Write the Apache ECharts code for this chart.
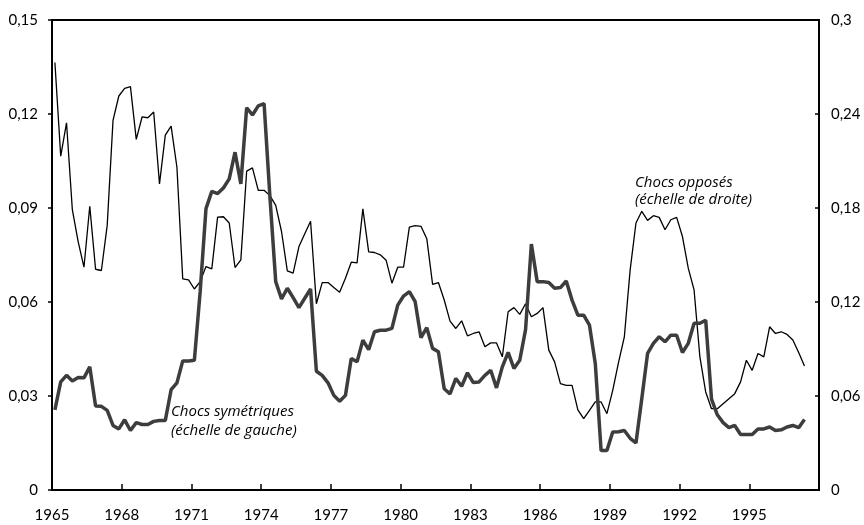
<!DOCTYPE html>
<html>
<head>
<meta charset="utf-8">
<script src="https://cdn.jsdelivr.net/npm/echarts@6/dist/echarts.min.js"></script>
<style>
  html, body { margin: 0; padding: 0; background: #fff; }
  #main { width: 864px; height: 525px; }
</style>
</head>
<body>
<div id="main"></div>
<script>
// quarterly series, first quarter of 1965 onwards
const firstQuarter = 1965.125;
const quarterStep = 0.25;

// Chocs symétriques (échelle de gauche)
const chocsSymetriques = [
  0.0256, 0.0345, 0.0366, 0.0348, 0.0359, 0.0358, 0.0393, 0.0268, 0.0267, 0.0254,
  0.0206, 0.0195, 0.0224, 0.0190, 0.0215, 0.0209, 0.0209, 0.0219, 0.0222, 0.0222,
  0.0320, 0.0342, 0.0412, 0.0412, 0.0414, 0.0633, 0.0898, 0.0953, 0.0946, 0.0964,
  0.0993, 0.1078, 0.0977, 0.1220, 0.1197, 0.1226, 0.1233, 0.0937, 0.0665, 0.0610,
  0.0644, 0.0614, 0.0582, 0.0612, 0.0642, 0.0379, 0.0366, 0.0342, 0.0302, 0.0283,
  0.0302, 0.0420, 0.0409, 0.0478, 0.0448, 0.0505, 0.0510, 0.0510, 0.0516, 0.0590,
  0.0619, 0.0633, 0.0601, 0.0486, 0.0518, 0.0452, 0.0441, 0.0323, 0.0307, 0.0356,
  0.0331, 0.0374, 0.0343, 0.0345, 0.0366, 0.0382, 0.0326, 0.0393, 0.0439, 0.0388,
  0.0414, 0.0512, 0.0785, 0.0665, 0.0665, 0.0662, 0.0644, 0.0646, 0.0667, 0.0606,
  0.0558, 0.0558, 0.0526, 0.0404, 0.0126, 0.0126, 0.0185, 0.0186, 0.0190, 0.0165,
  0.0150, 0.0291, 0.0436, 0.0468, 0.0489, 0.0473, 0.0494, 0.0494, 0.0439, 0.0468,
  0.0532, 0.0532, 0.0542, 0.0290, 0.0240, 0.0215, 0.0199, 0.0206, 0.0177, 0.0177,
  0.0177, 0.0195, 0.0195, 0.0201, 0.0190, 0.0192, 0.0201, 0.0206, 0.0199, 0.0225
];

// Chocs opposés (échelle de droite)
const chocsOpposes = [
  0.2729, 0.2131, 0.2344, 0.1789, 0.1586, 0.1422, 0.1811, 0.1409, 0.1401, 0.1689,
  0.2359, 0.2515, 0.2564, 0.2575, 0.2238, 0.2381, 0.2376, 0.2413, 0.1954, 0.2265,
  0.2323, 0.2060, 0.1347, 0.1341, 0.1283, 0.1330, 0.1426, 0.1411, 0.1742, 0.1744,
  0.1704, 0.1420, 0.1469, 0.2035, 0.2056, 0.1913, 0.1913, 0.1879, 0.1817, 0.1650,
  0.1399, 0.1384, 0.1554, 0.1636, 0.1715, 0.1189, 0.1324, 0.1324, 0.1292, 0.1262,
  0.1352, 0.1454, 0.1450, 0.1794, 0.1520, 0.1516, 0.1501, 0.1467, 0.1320, 0.1422,
  0.1422, 0.1678, 0.1687, 0.1683, 0.1604, 0.1313, 0.1324, 0.1213, 0.1078, 0.1031,
  0.1080, 0.0984, 0.0999, 0.1010, 0.0914, 0.0939, 0.0939, 0.0850, 0.1138, 0.1164,
  0.1121, 0.1189, 0.1106, 0.1127, 0.1164, 0.0893, 0.0818, 0.0679, 0.0668, 0.0668,
  0.0512, 0.0455, 0.0508, 0.0562, 0.0562, 0.0487, 0.0636, 0.0814, 0.0978, 0.1405,
  0.1704, 0.1779, 0.1721, 0.1751, 0.1740, 0.1661, 0.1725, 0.1740, 0.1618, 0.1416,
  0.1277, 0.0850, 0.0626, 0.0519, 0.0519, 0.0551, 0.0583, 0.0615, 0.0690, 0.0828,
  0.0764, 0.0871, 0.0850, 0.1042, 0.0999, 0.1010, 0.0993, 0.0957, 0.0878, 0.0792
];

const yearMin = 1965;
const yearMax = 1998;
const yearStep = 3;

function toPoints(values) {
  return values.map((v, i) => [firstQuarter + i * quarterStep, v]);
}

// 0.15 -> "0,15"
function frNum(v) {
  return String(+v.toFixed(2)).replace('.', ',');
}

const font = 'Lato';
const labelStyle = { color: '#000', fontSize: 15, fontFamily: font };
const noteFont = 'italic 15px "Open Sans"';

let myChart = echarts.init(document.getElementById('main'));
let option = {
  animation: false,
  backgroundColor: '#fff',
  grid: {
    left: 52, right: 45, top: 20, bottom: 35,
    show: true, borderColor: '#000', borderWidth: 2
  },
  xAxis: {
    type: 'value',
    min: yearMin,
    max: yearMax,
    interval: yearStep,
    axisLine: { show: true, lineStyle: { color: '#000', width: 2 } },
    axisTick: { show: true, inside: true, length: 6, lineStyle: { color: '#000', width: 1.5 } },
    axisLabel: Object.assign({ margin: 18, formatter: v => (v >= yearMax ? '' : String(v)) }, labelStyle),
    splitLine: { show: false }
  },
  yAxis: [
    {
      type: 'value',
      min: 0, max: 0.15, interval: 0.03,
      position: 'left',
      axisLine: { show: true, lineStyle: { color: '#000', width: 2 } },
      axisTick: { show: true, length: 4, lineStyle: { color: '#000', width: 1.5 } },
      axisLabel: Object.assign({ margin: 14, formatter: frNum }, labelStyle),
      splitLine: { show: false }
    },
    {
      type: 'value',
      min: 0, max: 0.3, interval: 0.06,
      position: 'right',
      axisLine: { show: true, lineStyle: { color: '#000', width: 2 } },
      axisTick: { show: true, inside: true, length: 4, lineStyle: { color: '#000', width: 1.5 } },
      axisLabel: Object.assign({ margin: 12, formatter: frNum }, labelStyle),
      splitLine: { show: false }
    }
  ],
  series: [
    {
      name: 'Chocs opposés',
      type: 'line',
      yAxisIndex: 1,
      data: toPoints(chocsOpposes),
      symbol: 'none',
      lineStyle: { color: '#000', width: 1.3 }
    },
    {
      name: 'Chocs symétriques',
      type: 'line',
      yAxisIndex: 0,
      data: toPoints(chocsSymetriques),
      symbol: 'none',
      lineStyle: { color: '#3d3d3d', width: 3.5 }
    }
  ],
  graphic: [
    { type: 'text', x: 171, y: 412, style: { text: 'Chocs symétriques', font: noteFont, fill: '#000', textVerticalAlign: 'middle' } },
    { type: 'text', x: 171, y: 431, style: { text: '(échelle de gauche)', font: noteFont, fill: '#000', textVerticalAlign: 'middle' } },
    { type: 'text', x: 635, y: 183, style: { text: 'Chocs opposés', font: noteFont, fill: '#000', textVerticalAlign: 'middle' } },
    { type: 'text', x: 635, y: 200, style: { text: '(échelle de droite)', font: noteFont, fill: '#000', textVerticalAlign: 'middle' } }
  ]
};
myChart.setOption(option);
</script>
</body>
</html>
